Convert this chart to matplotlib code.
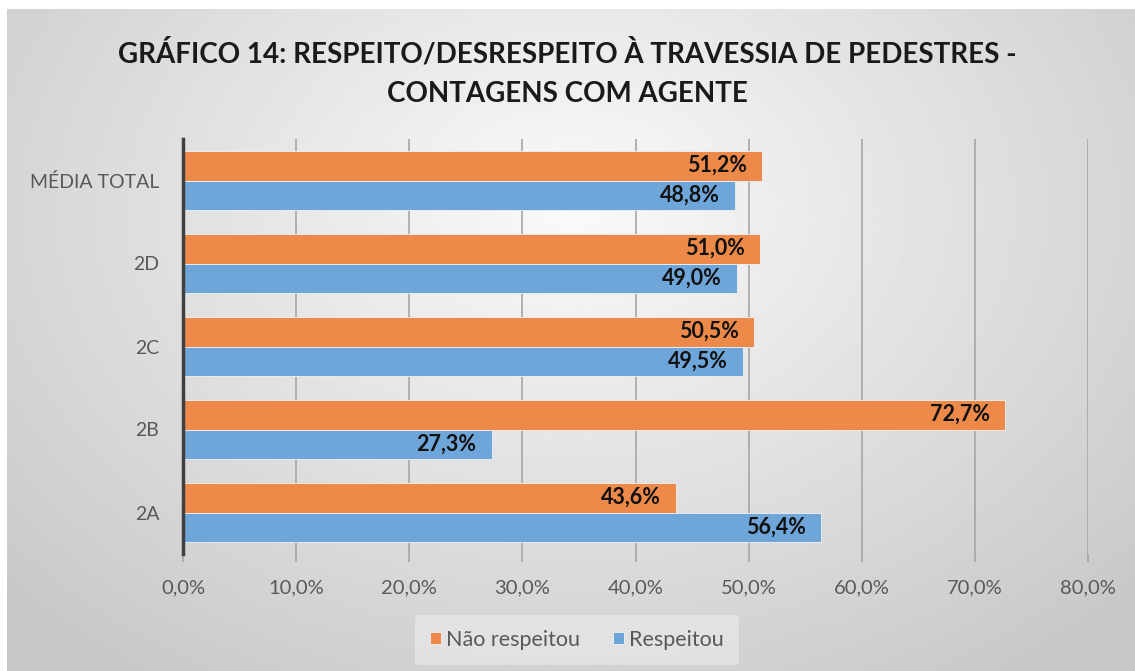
import numpy as np
import matplotlib.pyplot as plt

plt.rcParams['font.family'] = ['Lato', 'DejaVu Sans']

CATEGORIES = ["2A", "2B", "2C", "2D", "MÉDIA TOTAL"]
NAO_RESPEITOU = [43.6, 72.7, 50.5, 51.0, 51.2]
RESPEITOU = [56.4, 27.3, 49.5, 49.0, 48.8]
SERIES_NAMES = ["Não respeitou", "Respeitou"]
X_TICKS = [0, 10, 20, 30, 40, 50, 60, 70, 80]
TITLE = "GRÁFICO 14: RESPEITO/DESRESPEITO À TRAVESSIA DE PEDESTRES -\nCONTAGENS COM AGENTE"

ORANGE = "#ED8A4A"
BLUE = "#6FA6DA"
W, H = 1135, 671


def fmt(v):
    return f"{v:.1f}%".replace(".", ",")


fig = plt.figure(figsize=(W / 100, H / 100), dpi=100)
fig.patch.set_facecolor("white")

# radial gradient background of the chart area
bg = fig.add_axes([7 / W, 0, 1 - 7 / W, 1 - 9 / H], zorder=-5)
yy, xx = np.mgrid[0:1:300j, 0:1:500j]
r = np.sqrt(((xx - 0.5) / 0.75) ** 2 + ((yy - 0.3) / 0.95) ** 2)
shade = np.clip(250 - 55 * r, 200, 250) / 255.0
bg.imshow(shade, cmap="gray", vmin=0, vmax=1, aspect="auto", extent=[0, 1, 1, 0])
bg.set_axis_off()

ax = fig.add_axes([183 / W, 1 - 554 / H, 905 / W, 415 / H])
ax.set_facecolor("none")

y = np.arange(len(CATEGORIES))
h = 0.36
b1 = ax.barh(y + h / 2, NAO_RESPEITOU, height=h, color=ORANGE, edgecolor="#f2f2f2",
             linewidth=0.6, label=SERIES_NAMES[0], zorder=3)
b2 = ax.barh(y - h / 2, RESPEITOU, height=h, color=BLUE, edgecolor="#f2f2f2",
             linewidth=0.6, label=SERIES_NAMES[1], zorder=3)

for bars, vals in ((b1, NAO_RESPEITOU), (b2, RESPEITOU)):
    for bar, v in zip(bars, vals):
        ax.annotate(fmt(v), (v, bar.get_y() + bar.get_height() / 2),
                    xytext=(-11, 0), textcoords="offset points",
                    ha="right", va="center", fontsize=15.5, fontweight="bold",
                    color="#111111", zorder=4)

ax.set_xlim(0, 80)
ax.set_ylim(-0.5, len(CATEGORIES) - 0.5)
ax.set_xticks(X_TICKS)
ax.set_xticklabels([fmt(t) for t in X_TICKS])
ax.set_yticks(y)
ax.set_yticklabels(CATEGORIES)
ax.grid(axis="x", color="#a6a6a6", linewidth=1.2, zorder=0)
ax.set_axisbelow(True)
for s in ("top", "right", "bottom"):
    ax.spines[s].set_visible(False)
ax.spines["left"].set_color("#404040")
ax.spines["left"].set_linewidth(2.5)
ax.spines["left"].set_zorder(5)
ax.tick_params(axis="x", length=6, width=1.2, color="#a6a6a6", labelsize=14.5,
               labelcolor="#595959", pad=12)
ax.tick_params(axis="y", length=0, labelsize=14, labelcolor="#595959", pad=17)

fig.text(0.5, 1 - 73 / H, TITLE, ha="center", va="center", fontsize=20,
         fontweight="bold", color="#1a1a1a", linespacing=1.65)

leg = fig.legend(handles=[b1, b2], loc="center", bbox_to_anchor=(577 / W, 1 - 640 / H),
                 ncol=2, frameon=True, fontsize=15.5, handlelength=0.5, handleheight=0.5,
                 handletextpad=0.25, columnspacing=1.5, borderpad=0.7, borderaxespad=0)
leg.get_frame().set_facecolor("#e6e6e6")
leg.get_frame().set_edgecolor("none")
leg.get_frame().set_alpha(0.8)
for t in leg.get_texts():
    t.set_color("#595959")

fig.savefig("out.png", dpi=100)
